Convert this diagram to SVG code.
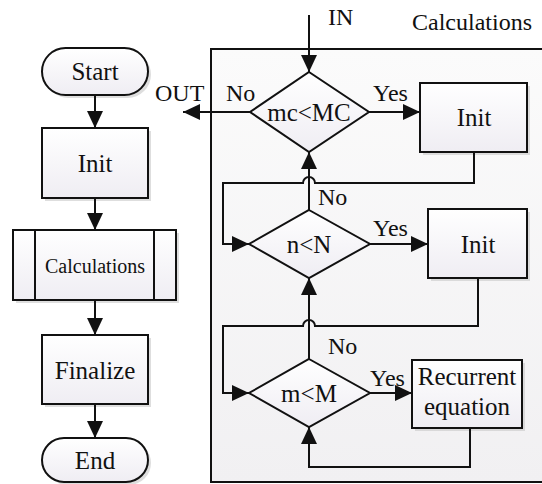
<svg xmlns="http://www.w3.org/2000/svg" width="542" height="484" viewBox="0 0 542 484">
<style>
text{font-family:"Liberation Serif","Times New Roman",serif;fill:#111;}
.t{font-size:25px;text-anchor:middle;}
.l{font-size:24px;}
.s{stroke:#111;stroke-width:2;fill:url(#g);}
.c{stroke:#111;stroke-width:2;fill:none;}
.sh{fill:#c8c8c8;opacity:0.6;}
</style>
<defs>
<linearGradient id="g" x1="0" y1="0" x2="0" y2="1"><stop offset="0" stop-color="#ffffff"/><stop offset="1" stop-color="#efedf3"/></linearGradient>
<linearGradient id="fg" x1="0" y1="0" x2="0" y2="1"><stop offset="0" stop-color="#fbfbfb"/><stop offset="1" stop-color="#f1f0f2"/></linearGradient>
<marker id="a" markerUnits="userSpaceOnUse" markerWidth="18" markerHeight="16" refX="17" refY="8" orient="auto"><path d="M0,0 L17,8 L0,16 Z" fill="#111"/></marker>
</defs>
<rect x="211" y="49" width="340" height="433" fill="url(#fg)" stroke="#111" stroke-width="2"/>
<text class="l" x="412" y="30">Calculations</text>
<text class="l" x="328" y="25">IN</text>
<g id="start"><rect x="45" y="51" width="106" height="47" rx="23.5" class="sh"/><rect x="42" y="48" width="106" height="47" rx="23.5" class="s"/><text class="t" x="95" y="80">Start</text></g>
<g id="init0"><rect x="45" y="131" width="106" height="70" class="sh"/><rect x="42" y="128" width="106" height="70" class="s"/><text class="t" x="95" y="172">Init</text></g>
<g id="calc"><rect x="16" y="233" width="163" height="70" class="sh"/><rect x="13" y="230" width="163" height="70" class="s"/><line x1="35" y1="230" x2="35" y2="300" class="c"/><line x1="154" y1="230" x2="154" y2="300" class="c"/><text class="t" x="95" y="273" style="font-size:20px">Calculations</text></g>
<g id="finalize"><rect x="45" y="338" width="106" height="69" class="sh"/><rect x="42" y="335" width="106" height="69" class="s"/><text class="t" x="95" y="379">Finalize</text></g>
<g id="end"><rect x="45" y="441" width="106" height="44" rx="22" class="sh"/><rect x="42" y="438" width="106" height="44" rx="22" class="s"/><text class="t" x="95" y="469">End</text></g>
<g id="d1"><path d="M309,72 L369,112 L309,152 L250,112 Z" class="s"/><text class="t" x="309" y="121">mc&lt;MC</text></g>
<g id="init1"><rect x="423" y="86" width="107" height="69" class="sh"/><rect x="420" y="83" width="107" height="69" class="s"/><text class="t" x="474" y="126">Init</text></g>
<g id="d2"><path d="M309,210 L370,244 L309,278 L249,244 Z" class="s"/><text class="t" x="309" y="253">n&lt;N</text></g>
<g id="init2"><rect x="431" y="212" width="99" height="69" class="sh"/><rect x="428" y="209" width="99" height="69" class="s"/><text class="t" x="478" y="253">Init</text></g>
<g id="d3"><path d="M309,359 L370,393 L309,427 L249,393 Z" class="s"/><text class="t" x="309" y="402">m&lt;M</text></g>
<g id="rec"><rect x="415" y="363" width="110" height="68" class="sh"/><rect x="412" y="360" width="110" height="68" class="s"/><text class="t" x="467" y="385">Recurrent</text><text class="t" x="467" y="415">equation</text></g>
<g id="connectors">
<line x1="95" y1="95" x2="95" y2="128" class="c" marker-end="url(#a)"/>
<line x1="95" y1="198" x2="95" y2="230" class="c" marker-end="url(#a)"/>
<line x1="95" y1="300" x2="95" y2="335" class="c" marker-end="url(#a)"/>
<line x1="95" y1="404" x2="95" y2="438" class="c" marker-end="url(#a)"/>
<line x1="309" y1="15" x2="309" y2="72" class="c" marker-end="url(#a)"/>
<line x1="250" y1="112" x2="183" y2="112" class="c" marker-end="url(#a)"/>
<line x1="369" y1="112" x2="420" y2="112" class="c" marker-end="url(#a)"/>
<path d="M474,152 V183 H315 A6,6 0 0 0 303,183 H223 V244 H249" class="c" marker-end="url(#a)"/>
<line x1="309" y1="210" x2="309" y2="152" class="c" marker-end="url(#a)"/>
<line x1="370" y1="244" x2="428" y2="244" class="c" marker-end="url(#a)"/>
<path d="M478,278 V326 H315 A6,6 0 0 0 303,326 H223 V393 H249" class="c" marker-end="url(#a)"/>
<line x1="309" y1="359" x2="309" y2="278" class="c" marker-end="url(#a)"/>
<line x1="370" y1="393" x2="412" y2="393" class="c" marker-end="url(#a)"/>
<path d="M470,428 V467 H309 V427" class="c" marker-end="url(#a)"/>
</g>
<text class="l" x="155" y="101">OUT</text>
<text class="l" x="226" y="101">No</text>
<text class="l" x="373" y="101">Yes</text>
<text class="l" x="318" y="205">No</text>
<text class="l" x="373" y="236">Yes</text>
<text class="l" x="328" y="354">No</text>
<text class="l" x="370" y="386">Yes</text>
</svg>
